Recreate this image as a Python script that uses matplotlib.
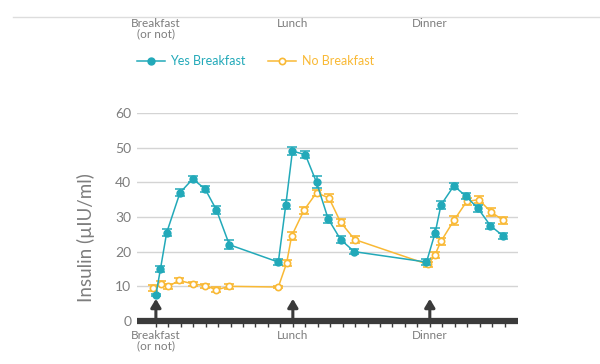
import matplotlib.pyplot as plt
from matplotlib.lines import Line2D
import numpy as np

plt.rcParams['font.family'] = ['Lato', 'DejaVu Sans']

# minutes after breakfast (one tick = 30 min)
yes_x = [0, 11, 26, 58, 89, 119, 146, 177, 295, 313, 329, 360, 387, 415, 445, 478,
         652, 673, 687, 718, 747, 776, 806, 837]
yes_y = [7.5, 15, 25.5, 37, 41, 38, 32, 22, 17, 33.5, 49, 48, 40, 29.5, 23.5, 20,
         17, 25.5, 33.5, 39, 36, 32.5, 27.5, 24.5]
yes_err = [0.3, 1.0, 1.0, 1.0, 0.9, 0.9, 1.2, 1.3, 0.8, 1.3, 1.2, 1.1, 1.7, 1.2, 0.9, 0.7,
           0.8, 1.2, 1.2, 0.8, 0.8, 1.0, 0.9, 0.9]

no_x = [-6, 12, 30, 56, 89, 119, 146, 177, 295, 315, 327, 357, 387, 417, 445, 479,
        656, 672, 687, 718, 749, 778, 807, 837]
no_y = [9.5, 10.8, 10, 11.7, 10.7, 10.2, 9, 10, 9.8, 16.7, 24.5, 32, 37, 35.5, 28.5, 23.5,
        16.3, 19, 23, 29, 34.5, 35, 31.5, 29]
no_err = [0.8, 0.7, 0.7, 0.7, 0.6, 0.6, 0.7, 0.7, 0.4, 0.8, 1.2, 1.0, 0.9, 1.1, 1.0, 1.0,
          0.7, 0.8, 1.0, 1.2, 1.0, 1.0, 1.1, 0.9]

meals = [0, 330, 660]
meal_labels = ["Breakfast\n(or not)", "Lunch", "Dinner"]
yticks = [0, 10, 20, 30, 40, 50, 60]

teal = "#22a9b9"
gold = "#f9b935"
grey = "#7d7d7d"
dark = "#3b3b3b"

fig = plt.figure(figsize=(6, 3.64), dpi=100)
ax = fig.add_axes([0.228, 0.1181, 0.635, 0.5715])

for v in yticks[1:]:
    ax.axhline(v, color="#d4d4d4", lw=1, zorder=0)

ax.errorbar(no_x, no_y, yerr=no_err, color=gold, lw=1.1, marker="o", ms=4.5,
            mfc="white", mec=gold, mew=1.2, capsize=3.5, capthick=1.1, zorder=3)
ax.errorbar(yes_x, yes_y, yerr=yes_err, color=teal, lw=1.1, marker="o", ms=5,
            mfc=teal, mec=teal, capsize=3.5, capthick=1.1, zorder=4)

ax.axhline(0, color=dark, lw=4.5, zorder=5, solid_capstyle="butt", clip_on=False)
for m in meals:
    ax.annotate("", xy=(m, 6.4), xytext=(m, 0),
                arrowprops=dict(arrowstyle="-|>,head_width=0.3,head_length=0.5",
                                lw=2.2, color=dark, shrinkA=0, shrinkB=0), zorder=6)

ax.set_xlim(-46, 872)
ax.set_ylim(0, 60)
ax.set_yticks(yticks)
ax.set_xticks(meals)
ax.set_xticklabels(meal_labels, color=grey, fontsize=8.5, linespacing=0.95)
ax.set_xticks(np.arange(0, 841, 30), minor=True)
ax.tick_params(axis="x", which="both", length=4.5, width=1, color=dark, pad=2, direction="out")
ax.tick_params(axis="y", length=0, labelsize=10, labelcolor=grey, pad=4)
for s in ax.spines.values():
    s.set_visible(False)
ax.set_ylabel("Insulin (µIU/ml)", fontsize=13.5, color=grey)
ax.yaxis.set_label_coords(-0.11, 0.40)

# top band
fig.add_artist(Line2D([13 / 600, 1], [1 - 17 / 364, 1 - 17 / 364], color="#dddddd", lw=1))
for m, lab in zip(meals, meal_labels):
    xf = fig.transFigure.inverted().transform(ax.transData.transform((m, 0)))[0]
    fig.text(xf, 1 - 18 / 364, lab, ha="center", va="top", fontsize=8.5, color=grey,
             linespacing=0.95)

ly = 1 - 61 / 364
fig.add_artist(Line2D([137 / 600, 165 / 600], [ly, ly], color=teal, lw=1.1))
fig.add_artist(Line2D([151 / 600], [ly], color=teal, marker="o", ms=5, lw=0))
fig.text(170 / 600, ly, "Yes Breakfast", color=teal, fontsize=9, va="center")
fig.add_artist(Line2D([268 / 600, 296 / 600], [ly, ly], color=gold, lw=1.1))
fig.add_artist(Line2D([282 / 600], [ly], color=gold, marker="o", ms=4.5,
                      mfc="white", mew=1.2, lw=0))
fig.text(302 / 600, ly, "No Breakfast", color=gold, fontsize=9, va="center")

fig.savefig("out.png", dpi=100)
